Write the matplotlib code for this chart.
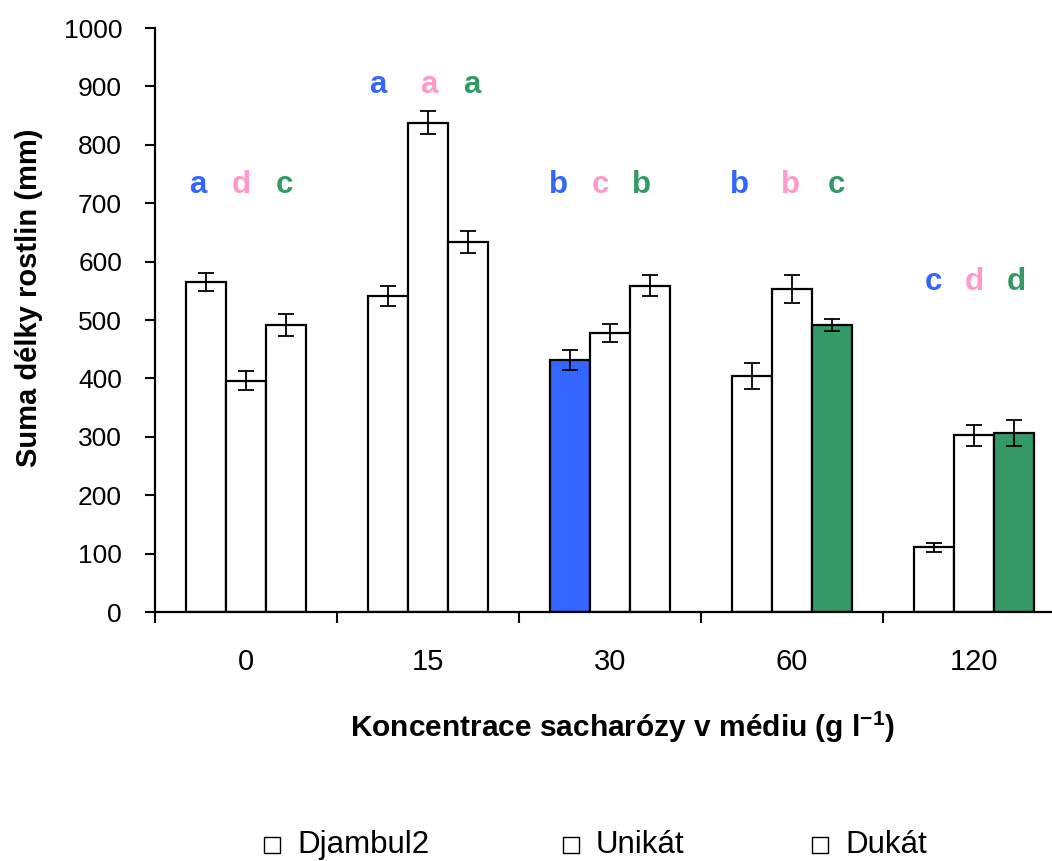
import matplotlib
matplotlib.use("Agg")
import matplotlib.pyplot as plt
from matplotlib.patches import Rectangle
import numpy as np

# --- data -------------------------------------------------------------
concentrations = ["0", "15", "30", "60", "120"]
series_names = ["Djambul2", "Unikát", "Dukát"]

djambul2 = [565, 541, 432, 404, 111]
djambul2_err = [16, 17, 17, 22, 8]
unikat = [396, 838, 478, 553, 303]
unikat_err = [16, 20, 16, 24, 18]
dukat = [491, 634, 559, 492, 306]
dukat_err = [19, 19, 18, 10, 22]

# significance letters (per series, per concentration)
djambul2_letters = ["a", "a", "b", "b", "c"]
unikat_letters = ["d", "a", "c", "b", "d"]
dukat_letters = ["c", "a", "b", "c", "d"]

# --- styling ----------------------------------------------------------
plt.rcParams["font.family"] = ["Liberation Sans", "DejaVu Sans"]
plt.rcParams["mathtext.fontset"] = "custom"
plt.rcParams["mathtext.rm"] = "Liberation Sans"
plt.rcParams["mathtext.bf"] = "Liberation Sans:bold"

W, H = 1052, 861
letter_colors = ["#3366FF", "#FF99CC", "#339966"]
# bars drawn with a solid fill: (series index, group index) -> colour
filled = {(0, 2): "#3366FF", (2, 3): "#339966", (2, 4): "#339966"}
# letter placement: baseline height (axis units) per group and
# horizontal nudge (pixels) per series and group
letter_baseline = [717, 889, 717, 717, 551]
letter_dx = [[-8, -10, -12, -13, -1],
             [-5, 1, -10, -2, 0],
             [-2, 4, -9, 4, 2]]

values = [djambul2, unikat, dukat]
errors = [djambul2_err, unikat_err, dukat_err]
letters = [djambul2_letters, unikat_letters, dukat_letters]

fig = plt.figure(figsize=(W / 100, H / 100), dpi=100)
ax = fig.add_axes([155 / W, 249 / H, 910 / W, 584 / H])

x = np.arange(len(concentrations))
group_px = 182
bar_w = 40 / group_px

for s in range(3):
    xs = x + (s - 1) * bar_w
    colors = [filled.get((s, g), "white") for g in range(len(x))]
    ax.bar(xs, values[s], width=bar_w, color=colors, edgecolor="black",
           linewidth=1.6, zorder=2)
    ax.errorbar(xs, values[s], yerr=errors[s], fmt="none", ecolor="black",
                elinewidth=1.3, capsize=5.5, capthick=1.3, zorder=3)
    for g in range(len(x)):
        ax.text(xs[g] + letter_dx[s][g] / group_px, letter_baseline[g],
                letters[s][g], color=letter_colors[s], fontsize=22.5,
                fontweight="bold", ha="center", va="baseline", zorder=4)

ax.set_xlim(-0.5, len(concentrations) - 0.5)
ax.set_ylim(0, 1000)
ax.set_yticks(np.arange(0, 1001, 100))

# group separators as major ticks, category labels on minor ticks
ax.set_xticks(np.arange(-0.5, len(concentrations), 1.0))
ax.set_xticklabels([])
ax.set_xticks(x, minor=True)
ax.set_xticklabels(concentrations, minor=True)
ax.tick_params(axis="x", which="major", direction="out", length=8,
               width=1.5, color="black")
ax.tick_params(axis="x", which="minor", length=0, pad=26, labelsize=21)
ax.tick_params(axis="y", direction="out", length=7.2, width=1.5,
               pad=16.5, labelsize=19)

for side in ("top", "right"):
    ax.spines[side].set_visible(False)
for side in ("left", "bottom"):
    ax.spines[side].set_linewidth(1.6)

ax.set_ylabel("Suma délky rostlin (mm)", fontsize=21, fontweight="bold")
ax.yaxis.set_label_coords(-0.123, 0.538)
ax.set_xlabel(r"Koncentrace sacharózy v médiu (g l$^{\mathbf{-1}}$)",
              fontsize=21.5, fontweight="bold")
ax.xaxis.set_label_coords(0.514, -0.166)

# legend: hollow squares followed by the series names
legend_x = [264, 563, 812]
baseline_px = 853
box_px = 16
for name, lx in zip(series_names, legend_x):
    fig.add_artist(Rectangle((lx / W, (H - baseline_px) / H),
                             box_px / W, box_px / H,
                             transform=fig.transFigure, facecolor="white",
                             edgecolor="black", linewidth=1.0))
    fig.text((lx + box_px + 17) / W, (H - baseline_px) / H, name,
             fontsize=22.5, ha="left", va="baseline")

fig.savefig("out.png", dpi=100)
